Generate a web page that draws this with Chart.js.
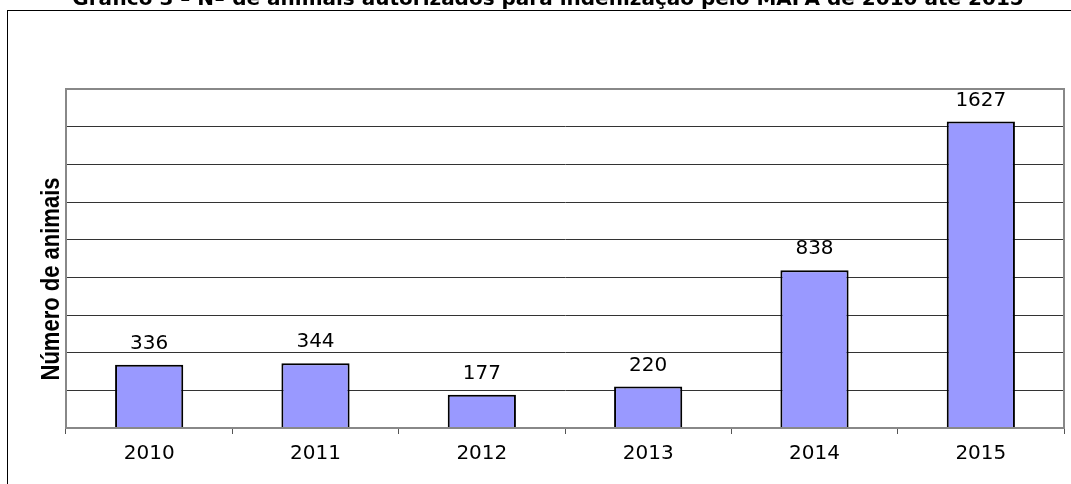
<!DOCTYPE html>
<html>
<head>
<meta charset="utf-8">
<script src="https://cdn.jsdelivr.net/npm/chart.js@4/dist/chart.umd.min.js"></script>
<style>
  html, body { margin: 0; padding: 0; background: #fff; }
  #wrap { width: 1071px; height: 484px; position: relative; }
</style>
</head>
<body>
<div id="wrap"><canvas id="canva1" width="1071" height="484"></canvas></div>
<script>
// dados do gráfico
var anos = ['2010', '2011', '2012', '2013', '2014', '2015'];
var animais = [336, 344, 177, 220, 838, 1627];
var titulo = 'Gráfico 3 – Nº de animais autorizados para indenização pelo MAPA de 2010 até 2015';
var tituloY = 'Número de animais';

// moldura externa, título cortado, título do eixo y e rótulos das barras
var extras = {
    id: 'extras',
    beforeDraw: function (chart) {
        var c = chart.ctx;
        c.save();
        c.fillStyle = '#fff';
        c.fillRect(0, 0, chart.width, chart.height);
        c.strokeStyle = '#000';
        c.lineWidth = 1;
        c.strokeRect(7.5, 10.5, 1100, 600);
        c.fillStyle = '#000';
        c.font = 'bold 20px "DejaVu Sans", sans-serif';
        c.textAlign = 'center';
        c.textBaseline = 'alphabetic';
        c.fillText(titulo, 548, 5);
        c.restore();
    },
    afterDraw: function (chart) {
        var c = chart.ctx;
        var a = chart.chartArea;
        c.save();
        c.strokeStyle = '#888';
        c.lineWidth = 2;
        c.strokeRect(a.left, a.top, a.right - a.left, a.bottom - a.top);
        c.fillStyle = '#000';
        c.font = '20px "DejaVu Sans", sans-serif';
        c.textAlign = 'center';
        c.textBaseline = 'alphabetic';
        chart.getDatasetMeta(0).data.forEach(function (bar, i) {
            c.fillText(animais[i], bar.x, bar.y - 16);
        });
        // título do eixo, um pouco esticado como no original
        c.translate(59, 279);
        c.rotate(-Math.PI / 2);
        c.scale(1, 1.2);
        c.font = 'bold 22px "Liberation Sans", Arial, sans-serif';
        c.textBaseline = 'alphabetic';
        c.fillText(tituloY, 0, 0);
        c.restore();
    }
};

var ctx = document.getElementById('canva1').getContext('2d');
var myChart = new Chart(ctx, {
    type: 'bar',
    data: {
        labels: anos,
        datasets: [{
            label: tituloY,
            data: animais,
            backgroundColor: '#9999FF',
            borderColor: '#000000',
            borderWidth: 2,
            barPercentage: 0.41,
            categoryPercentage: 1.0
        }]
    },
    options: {
        responsive: false,
        animation: false,
        layout: { padding: { left: 66, top: 89, right: 7, bottom: 10 } },
        plugins: {
            legend: { display: false },
            tooltip: { enabled: false }
        },
        scales: {
            x: {
                offset: true,
                grid: { offset: true, drawOnChartArea: false, drawTicks: true, tickLength: 6, color: '#555' },
                border: { color: '#555', width: 2 },
                ticks: { color: '#000', padding: 8, font: { size: 20, family: '"DejaVu Sans", sans-serif' } }
            },
            y: {
                min: 0,
                max: 1800,
                ticks: { stepSize: 200, display: false },
                grid: { color: '#333', drawTicks: false },
                border: { color: '#888', width: 2 }
            }
        }
    },
    plugins: [extras]
});
</script>
</body>
</html>
